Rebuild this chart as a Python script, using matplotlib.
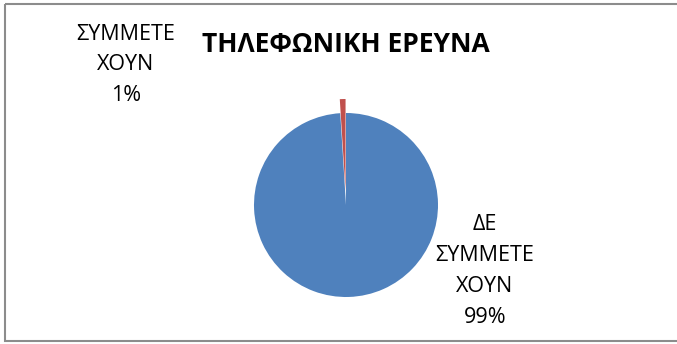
import matplotlib.pyplot as plt
from matplotlib.patches import Rectangle

plt.rcParams['font.family'] = ['Open Sans', 'DejaVu Sans']

# Τηλεφωνική έρευνα: ποσοστά συμμετοχής
categories = ['ΔΕ\nΣΥΜΜΕΤΕ\nΧΟΥΝ', 'ΣΥΜΜΕΤΕ\nΧΟΥΝ']
values = [99, 1]
colors = ['#4F81BD', '#C0504D']
title = 'ΤΗΛΕΦΩΝΙΚΗ ΕΡΕΥΝΑ'

W, H = 677, 344
fig = plt.figure(figsize=(W / 100, H / 100), dpi=100)
ax = fig.add_axes([0, 0, 1, 1])

# πλαίσιο γραφήματος
ax.add_patch(Rectangle((5, 4), 700, 337, fill=False, edgecolor='#8c8c8c', linewidth=1.5))

# η πίτα σχεδιάζεται σε ανεστραμμένο άξονα y, άρα η φορά αντιστρέφεται
# (το explode εδώ είναι σε μονάδες του άξονα, δηλ. pixels)
wedges, _ = ax.pie(values, colors=colors, startangle=-90, counterclock=True,
                   center=(346, 205), radius=92, explode=[0, 14],
                   wedgeprops=dict(linewidth=0))
ax.set_xlim(0, W)
ax.set_ylim(H, 0)
ax.set_aspect('equal')
ax.axis('off')

ax.text(346, 45, title, ha='center', va='center', fontsize=19, fontweight='bold')

total = sum(values)
label_pos = [(485, 271), (126, 65)]
for cat, v, (x, y) in zip(categories, values, label_pos):
    ax.text(x, y, f'{cat}\n{round(100 * v / total)}%', ha='center', va='center',
            fontsize=15.5, linespacing=1.62, color='#000000')

fig.savefig('out.png', dpi=100)
